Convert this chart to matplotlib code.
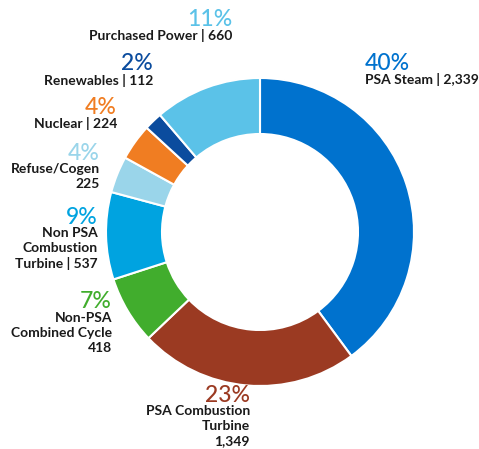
import matplotlib
matplotlib.use("Agg")
import matplotlib.pyplot as plt

# clockwise from 12 o'clock
sources = ["PSA Steam", "PSA Combustion Turbine", "Non-PSA Combined Cycle",
           "Non PSA Combustion Turbine", "Refuse/Cogen", "Nuclear",
           "Renewables", "Purchased Power"]
values = [2339, 1349, 418, 537, 225, 224, 112, 660]
pct_labels = ["40%", "23%", "7%", "9%", "4%", "4%", "2%", "11%"]
text_labels = ["PSA Steam | 2,339", "PSA Combustion\nTurbine\n1,349",
               "Non-PSA\nCombined Cycle\n418", "Non PSA\nCombustion\nTurbine | 537",
               "Refuse/Cogen\n225", "Nuclear | 224", "Renewables | 112",
               "Purchased Power | 660"]
colors = ["#0072CE", "#9B3A22", "#41AD2D", "#00A3E0", "#9AD5EA",
          "#F07D22", "#0B4C9E", "#5BC2E8"]

W, H = 479, 449
fig = plt.figure(figsize=(W / 100, H / 100), dpi=100)
ax = fig.add_axes([0, 0, 1, 1])

cx, cy, r_out, r_in = 260, H - 232, 154, 98
ax.pie(values, colors=colors, startangle=90, counterclock=False,
       center=(cx, cy), radius=r_out, frame=True,
       wedgeprops=dict(width=r_out - r_in, edgecolor="white", linewidth=1.5))
ax.set_xlim(0, W)
ax.set_ylim(0, H)
ax.set_aspect("auto")
ax.axis("off")

# (x, y of pct text center, alignment) in pixel coords from top
placements = [(365, 63, "left"), (250, 395, "right"), (112, 302, "right"),
              (98, 217, "right"), (100, 153, "right"), (117, 107, "right"),
              (153, 64, "right"), (232, 19, "right")]

FONT = "Lato"
for pct, lab, col, (x, y, ha) in zip(pct_labels, text_labels, colors, placements):
    ax.text(x, H - y, pct, color=col, fontsize=16.5, ha=ha, va="center",
            family=FONT, fontweight="medium")
    ax.text(x, H - y - 10, lab, color="#1a1a1a", fontsize=10, ha=ha, va="top",
            family=FONT, fontweight="bold", linespacing=1.3,
            multialignment=ha)

fig.savefig("out.png", dpi=100)
